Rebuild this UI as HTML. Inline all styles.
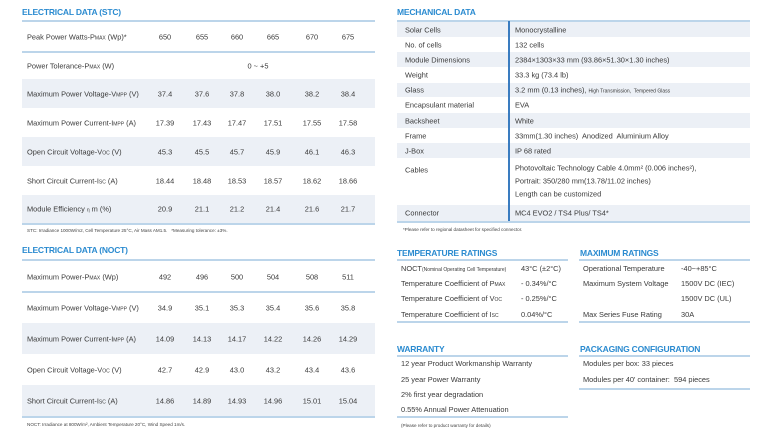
<!DOCTYPE html>
<html><head><meta charset="utf-8"><style>
*{margin:0;padding:0;box-sizing:border-box}
body{width:765px;height:440px;background:#fff;position:relative;overflow:hidden;font-family:"Liberation Sans",sans-serif;color:#3a3a3a}
.t{position:absolute;font-size:8.5px;font-weight:bold;color:#2b8bd0;white-space:nowrap;letter-spacing:-0.2px}
.ln{position:absolute;height:2px;background:#bcd5ea}
.r{position:absolute;font-size:7.4px;white-space:nowrap}
.row{position:absolute;left:22px;width:353px;font-size:7.4px}
.row .l{position:absolute;left:5px;top:50%;transform:translateY(-50%);white-space:nowrap}
.row .v{position:absolute;top:50%;transform:translate(-50%,-50%);white-space:nowrap}
.sh{background:#ecf0f6}
.fn{position:absolute;font-size:4.6px;white-space:nowrap;color:#444}
sub,small{font-size:5px}
.mr{position:absolute;left:397px;width:353px;font-size:7.4px}
.mr .a{position:absolute;left:8px;top:50%;transform:translateY(-50%);white-space:nowrap}
.mr .b{position:absolute;left:118px;top:50%;transform:translateY(-50%);white-space:nowrap}
</style></head><body>

<div class="t" style="left:22px;top:7px">ELECTRICAL DATA (STC)</div>
<div class="ln" style="left:22px;top:20px;width:353px"></div>
<div class="row" style="top:22px;height:30px"><span class="l">Peak Power Watts-P<small>MAX</small> (Wp)*</span><span class="v" style="left:143px">650</span><span class="v" style="left:180px">655</span><span class="v" style="left:215px">660</span><span class="v" style="left:251px">665</span><span class="v" style="left:290px">670</span><span class="v" style="left:326px">675</span></div>
<div class="ln" style="left:22px;top:51px;width:353px"></div>
<div class="row" style="top:53px;height:26px"><span class="l">Power Tolerance-P<small>MAX</small> (W)</span><span class="v" style="left:236px">0 ~ +5</span></div>
<div class="row sh" style="top:79px;height:29px"><span class="l">Maximum Power Voltage-V<small>MPP</small> (V)</span><span class="v" style="left:143px">37.4</span><span class="v" style="left:180px">37.6</span><span class="v" style="left:215px">37.8</span><span class="v" style="left:251px">38.0</span><span class="v" style="left:290px">38.2</span><span class="v" style="left:326px">38.4</span></div>
<div class="row" style="top:108px;height:29px"><span class="l">Maximum Power Current-I<small>MPP</small> (A)</span><span class="v" style="left:143px">17.39</span><span class="v" style="left:180px">17.43</span><span class="v" style="left:215px">17.47</span><span class="v" style="left:251px">17.51</span><span class="v" style="left:290px">17.55</span><span class="v" style="left:326px">17.58</span></div>
<div class="row sh" style="top:137px;height:29px"><span class="l">Open Circuit Voltage-V<small>OC</small> (V)</span><span class="v" style="left:143px">45.3</span><span class="v" style="left:180px">45.5</span><span class="v" style="left:215px">45.7</span><span class="v" style="left:251px">45.9</span><span class="v" style="left:290px">46.1</span><span class="v" style="left:326px">46.3</span></div>
<div class="row" style="top:166px;height:29px"><span class="l">Short Circuit Current-I<small>SC</small> (A)</span><span class="v" style="left:143px">18.44</span><span class="v" style="left:180px">18.48</span><span class="v" style="left:215px">18.53</span><span class="v" style="left:251px">18.57</span><span class="v" style="left:290px">18.62</span><span class="v" style="left:326px">18.66</span></div>
<div class="row sh" style="top:195px;height:28px"><span class="l">Module Efficiency <small>η</small> m (%)</span><span class="v" style="left:143px">20.9</span><span class="v" style="left:180px">21.1</span><span class="v" style="left:215px">21.2</span><span class="v" style="left:251px">21.4</span><span class="v" style="left:290px">21.6</span><span class="v" style="left:326px">21.7</span></div>
<div class="ln" style="left:22px;top:223px;width:353px"></div>
<div class="fn" style="left:27px;top:228px">STC: Irradiance 1000W/m2, Cell Temperature 25°C, Air Mass AM1.5.&nbsp;&nbsp; *Measuring tolerance: ±3%.</div>

<div class="t" style="left:22px;top:245px">ELECTRICAL DATA (NOCT)</div>
<div class="ln" style="left:22px;top:259px;width:353px"></div>
<div class="row" style="top:261px;height:31px"><span class="l">Maximum Power-P<small>MAX</small> (Wp)</span><span class="v" style="left:143px">492</span><span class="v" style="left:180px">496</span><span class="v" style="left:215px">500</span><span class="v" style="left:251px">504</span><span class="v" style="left:290px">508</span><span class="v" style="left:326px">511</span></div>
<div class="ln" style="left:22px;top:291px;width:353px"></div>
<div class="row" style="top:293px;height:30px"><span class="l">Maximum Power Voltage-V<small>MPP</small> (V)</span><span class="v" style="left:143px">34.9</span><span class="v" style="left:180px">35.1</span><span class="v" style="left:215px">35.3</span><span class="v" style="left:251px">35.4</span><span class="v" style="left:290px">35.6</span><span class="v" style="left:326px">35.8</span></div>
<div class="row sh" style="top:323px;height:31px"><span class="l">Maximum Power Current-I<small>MPP</small> (A)</span><span class="v" style="left:143px">14.09</span><span class="v" style="left:180px">14.13</span><span class="v" style="left:215px">14.17</span><span class="v" style="left:251px">14.22</span><span class="v" style="left:290px">14.26</span><span class="v" style="left:326px">14.29</span></div>
<div class="row" style="top:354px;height:31px"><span class="l">Open Circuit Voltage-V<small>OC</small> (V)</span><span class="v" style="left:143px">42.7</span><span class="v" style="left:180px">42.9</span><span class="v" style="left:215px">43.0</span><span class="v" style="left:251px">43.2</span><span class="v" style="left:290px">43.4</span><span class="v" style="left:326px">43.6</span></div>
<div class="row sh" style="top:385px;height:31px"><span class="l">Short Circuit Current-I<small>SC</small> (A)</span><span class="v" style="left:143px">14.86</span><span class="v" style="left:180px">14.89</span><span class="v" style="left:215px">14.93</span><span class="v" style="left:251px">14.96</span><span class="v" style="left:290px">15.01</span><span class="v" style="left:326px">15.04</span></div>
<div class="ln" style="left:22px;top:416px;width:353px"></div>
<div class="fn" style="left:27px;top:422px">NOCT: Irradiance at 800W/m², Ambient Temperature 20°C, Wind Speed 1m/s.</div>

<div class="t" style="left:397px;top:7px">MECHANICAL DATA</div>
<div class="ln" style="left:397px;top:20px;width:353px"></div>
<div class="mr sh" style="top:22px;height:15px"><span class="a">Solar Cells</span><span class="b">Monocrystalline</span></div>
<div class="mr" style="top:37px;height:15px"><span class="a">No. of cells</span><span class="b">132 cells</span></div>
<div class="mr sh" style="top:52px;height:15px"><span class="a">Module Dimensions</span><span class="b">2384×1303×33 mm (93.86×51.30×1.30 inches)</span></div>
<div class="mr" style="top:67px;height:16px"><span class="a">Weight</span><span class="b">33.3 kg (73.4 lb)</span></div>
<div class="mr sh" style="top:83px;height:14px"><span class="a">Glass</span><span class="b">3.2 mm (0.13 inches), <small>High Transmission,&nbsp; Tempered Glass</small></span></div>
<div class="mr" style="top:97px;height:16px"><span class="a">Encapsulant material</span><span class="b">EVA</span></div>
<div class="mr sh" style="top:113px;height:15px"><span class="a">Backsheet</span><span class="b">White</span></div>
<div class="mr" style="top:128px;height:15px"><span class="a">Frame</span><span class="b">33mm(1.30 inches)&nbsp; Anodized&nbsp; Aluminium Alloy</span></div>
<div class="mr sh" style="top:143px;height:15px"><span class="a">J-Box</span><span class="b">IP 68 rated</span></div>
<div class="mr" style="top:158px;height:47px"><span class="a" style="top:12px">Cables</span><span class="b" style="top:23px;line-height:13px">Photovoltaic Technology Cable 4.0mm² (0.006 inches²),<br>Portrait: 350/280 mm(13.78/11.02 inches)<br>Length can be customized</span></div>
<div class="mr sh" style="top:205px;height:16px"><span class="a">Connector</span><span class="b">MC4 EVO2 / TS4 Plus/ TS4*</span></div>
<div style="position:absolute;left:508px;top:21px;width:1.5px;height:200px;background:#3a7cc0"></div>
<div class="ln" style="left:397px;top:221px;width:353px"></div>
<div class="fn" style="left:403px;top:227px">*Please refer to regional datasheet for specified connector.</div>

<div class="t" style="left:397px;top:248px">TEMPERATURE RATINGS</div>
<div class="ln" style="left:397px;top:259px;width:171px"></div>
<div class="r" style="left:401px;top:264px">NOCT<small>(Nominal Operating Cell Temperature)</small></div><div class="r" style="left:521px;top:264px">43°C (±2°C)</div>
<div class="r" style="left:401px;top:279px">Temperature Coefficient of P<small>MAX</small></div><div class="r" style="left:521px;top:279px">- 0.34%/°C</div>
<div class="r" style="left:401px;top:294px">Temperature Coefficient of V<small>OC</small></div><div class="r" style="left:521px;top:294px">- 0.25%/°C</div>
<div class="r" style="left:401px;top:310px">Temperature Coefficient of I<small>SC</small></div><div class="r" style="left:521px;top:310px">0.04%/°C</div>
<div class="ln" style="left:397px;top:321px;width:171px"></div>

<div class="t" style="left:580px;top:248px">MAXIMUM RATINGS</div>
<div class="ln" style="left:579px;top:259px;width:171px"></div>
<div class="r" style="left:583px;top:264px">Operational Temperature</div><div class="r" style="left:681px;top:264px">-40~+85°C</div>
<div class="r" style="left:583px;top:279px">Maximum System Voltage</div><div class="r" style="left:681px;top:279px">1500V DC (IEC)</div>
<div class="r" style="left:681px;top:294px">1500V DC (UL)</div>
<div class="r" style="left:583px;top:310px">Max Series Fuse Rating</div><div class="r" style="left:681px;top:310px">30A</div>
<div class="ln" style="left:579px;top:321px;width:171px"></div>

<div class="t" style="left:397px;top:344px">WARRANTY</div>
<div class="ln" style="left:397px;top:355px;width:171px"></div>
<div class="r" style="left:401px;top:359px">12 year Product Workmanship Warranty</div>
<div class="r" style="left:401px;top:375px">25 year Power Warranty</div>
<div class="r" style="left:401px;top:390px">2% first year degradation</div>
<div class="r" style="left:401px;top:405px">0.55% Annual Power Attenuation</div>
<div class="ln" style="left:397px;top:416px;width:171px"></div>
<div class="fn" style="left:401px;top:423px">(Please refer to product warranty for details)</div>

<div class="t" style="left:580px;top:344px">PACKAGING CONFIGURATION</div>
<div class="ln" style="left:579px;top:355px;width:171px"></div>
<div class="r" style="left:583px;top:359px">Modules per box: 33 pieces</div>
<div class="r" style="left:583px;top:375px">Modules per 40' container:&nbsp; 594 pieces</div>
<div class="ln" style="left:579px;top:388px;width:171px"></div>
</body></html>
